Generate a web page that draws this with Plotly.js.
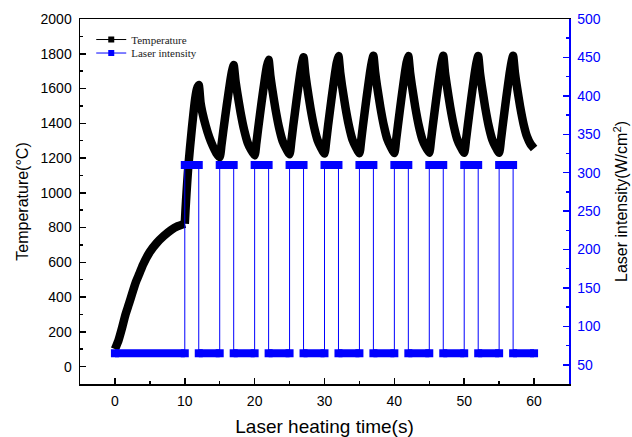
<!DOCTYPE html>
<html><head><meta charset="utf-8">
<script src="https://cdn.plot.ly/plotly-3.0.1.min.js"></script>
<style>html,body{margin:0;padding:0;background:#fff}#chart{width:632px;height:437px}</style>
</head><body><div id="chart"></div>
<script>
// Temperature (°C) vs laser heating time (s)
const tempTime = [
  0,0.5,1,1.5,2,2.5,3,3.5,4,5,6,7,8,9,10,
  10.1,10.25,10.5,11,11.5,11.75,12, 12.25,12.5,13,13.5,14,14.5,15,
  15.25,15.5,16,16.5,16.75,17, 17.25,17.5,18,18.5,19,19.5,20,
  20.25,20.5,21,21.5,21.75,22, 22.25,22.5,23,23.5,24,24.5,25,
  25.25,25.5,26,26.5,26.75,27, 27.25,27.5,28,28.5,29,29.5,30,
  30.25,30.5,31,31.5,31.75,32, 32.25,32.5,33,33.5,34,34.5,35,
  35.25,35.5,36,36.5,36.75,37, 37.25,37.5,38,38.5,39,39.5,40,
  40.25,40.5,41,41.5,41.75,42, 42.25,42.5,43,43.5,44,44.5,45,
  45.25,45.5,46,46.5,46.75,47, 47.25,47.5,48,48.5,49,49.5,50,
  50.25,50.5,51,51.5,51.75,52, 52.25,52.5,53,53.5,54,54.5,55,
  55.25,55.5,56,56.5,56.75,57, 57.25,57.5,58,58.5,59,59.5,60
];
const tempValue = [
  100,150,220,298,360,425,487,535,585,660,712,752,785,808,822,
  900,1000,1150,1365,1545,1598,1620, 1520,1465,1385,1320,1270,1230,1205,
  1274,1353,1502,1640,1698,1735, 1647,1579,1459,1361,1288,1246,1215,
  1287,1369,1523,1666,1727,1765, 1673,1602,1477,1374,1298,1255,1222,
  1295,1378,1534,1680,1741,1780, 1686,1614,1486,1381,1304,1259,1226,
  1299,1383,1540,1686,1748,1787, 1692,1619,1491,1385,1306,1262,1228,
  1301,1385,1541,1687,1748,1788, 1693,1620,1492,1386,1307,1263,1229,
  1302,1385,1541,1687,1749,1787, 1692,1620,1492,1386,1308,1263,1230,
  1303,1386,1542,1688,1749,1788, 1692,1621,1493,1387,1308,1263,1230,
  1302,1385,1541,1687,1748,1787, 1692,1620,1492,1386,1308,1263,1230,
  1302,1385,1541,1687,1748,1788, 1693,1622,1497,1395,1322,1280,1255
];
// Laser intensity (W/cm^2): step profile, each pair = start/end of a constant level
const laserTime = [0,10, 10,12, 12,15, 15,17, 17,20, 20,22, 22,25, 25,27, 27,30, 30,32,
  32,35, 35,37, 37,40, 40,42, 42,45, 45,47, 47,50, 50,52, 52,55, 55,57, 57,60];
const laserValue = [65,65, 310,310, 65,65, 310,310, 65,65, 310,310, 65,65, 310,310, 65,65, 310,310,
  65,65, 310,310, 65,65, 310,310, 65,65, 310,310, 65,65, 310,310, 65,65, 310,310, 65,65];
const seriesNames = ['Temperature', 'Laser intensity'];
const laserOnTime = 10; // laser pulsing starts here

const segX = [], segY = [];
for (let i = 0; i < laserTime.length; i += 2) {
  segX.push(laserTime[i], laserTime[i+1], null);
  segY.push(laserValue[i], laserValue[i+1], null);
}
const split = tempTime.indexOf(laserOnTime);
const BLUE = '#0000ff';
const tLine = {color: '#000', width: 8.5, shape: 'spline', smoothing: 0.5};

const traces = [
  {x: tempTime.slice(0, split + 1), y: tempValue.slice(0, split + 1), mode: 'lines', yaxis: 'y',
   showlegend: false, line: tLine, hoverinfo: 'skip'},
  {x: tempTime.slice(split), y: tempValue.slice(split), mode: 'lines', yaxis: 'y',
   showlegend: false, line: tLine, hoverinfo: 'skip'},
  {x: segX, y: segY, mode: 'lines', yaxis: 'y2', showlegend: false,
   line: {color: BLUE, width: 8}, connectgaps: false, hoverinfo: 'skip'},
  {x: laserTime, y: laserValue, mode: 'lines+markers', yaxis: 'y2', showlegend: false,
   line: {color: BLUE, width: 1}, marker: {symbol: 'square', size: 8, color: BLUE}},
  {x: [null], y: [null], mode: 'lines+markers', name: seriesNames[0], legend: 'legend',
   line: {color: '#000', width: 1}, marker: {symbol: 'square', size: 6, color: '#000'}},
  {x: [null], y: [null], mode: 'lines+markers', name: seriesNames[1], legend: 'legend2', yaxis: 'y2',
   line: {color: BLUE, width: 1}, marker: {symbol: 'square', size: 6, color: BLUE}}
];

const legFont = {family: 'Liberation Serif, "Times New Roman", serif', size: 11, color: '#222'};
const layout = {
  width: 632, height: 437,
  margin: {l: 80, r: 63, t: 19, b: 53},
  paper_bgcolor: '#fff', plot_bgcolor: '#fff',
  font: {family: 'Liberation Sans, Arial, sans-serif', size: 14, color: '#000'},
  showlegend: true,
  legend: {x: 0.023, xanchor: 'left', y: 0.9835, yanchor: 'top', bgcolor: 'rgba(0,0,0,0)',
           borderwidth: 0, font: legFont},
  legend2: {x: 0.023, xanchor: 'left', y: 0.9465, yanchor: 'top', bgcolor: 'rgba(0,0,0,0)',
           borderwidth: 0, font: legFont},
  xaxis: {
    range: [-5, 65], tick0: 0, dtick: 10, ticks: 'inside', ticklen: 6, tickwidth: 1.5, tickcolor: '#000',
    showline: true, linecolor: '#000', linewidth: 1.5, mirror: true, showgrid: false, zeroline: false,
    minor: {ticks: 'inside', tick0: 0, dtick: 5, ticklen: 3, tickwidth: 1.5, tickcolor: '#000', showgrid: false},
    ticklabelstandoff: 4, automargin: false,
    tickfont: {size: 14, color: '#000'},
    title: {text: 'Laser heating time(s)', font: {size: 19, color: '#000'}, standoff: 14}
  },
  yaxis: {
    range: [-100, 2000], tick0: 0, dtick: 200, ticks: 'inside', ticklen: 6, tickwidth: 1.5, tickcolor: '#000',
    showline: true, linecolor: '#000', linewidth: 1.5, mirror: false, showgrid: false, zeroline: false,
    minor: {ticks: 'inside', tick0: 0, dtick: 100, ticklen: 3, tickwidth: 1.5, tickcolor: '#000', showgrid: false},
    ticklabelstandoff: 4, automargin: false,
    tickfont: {size: 14, color: '#000'},
    title: {text: 'Temperature(°C)', font: {size: 16, color: '#000'}, standoff: 8}
  },
  yaxis2: {
    overlaying: 'y', side: 'right', anchor: 'x',
    range: [25, 500], tick0: 0, dtick: 50, ticks: 'inside', ticklen: 6, tickwidth: 1.5, tickcolor: BLUE,
    showline: true, linecolor: BLUE, linewidth: 1.5, showgrid: false, zeroline: false,
    minor: {ticks: 'inside', tick0: 0, dtick: 25, ticklen: 3, tickwidth: 1.5, tickcolor: BLUE, showgrid: false},
    ticklabelstandoff: 4, automargin: false,
    tickfont: {size: 14, color: BLUE},
    title: {text: 'Laser intensity(W/cm<sup>2</sup>)', font: {size: 16, color: '#000'}, standoff: 16}
  }
};

Plotly.newPlot('chart', traces, layout, {displayModeBar: false, staticPlot: true});
</script>
</body></html>
